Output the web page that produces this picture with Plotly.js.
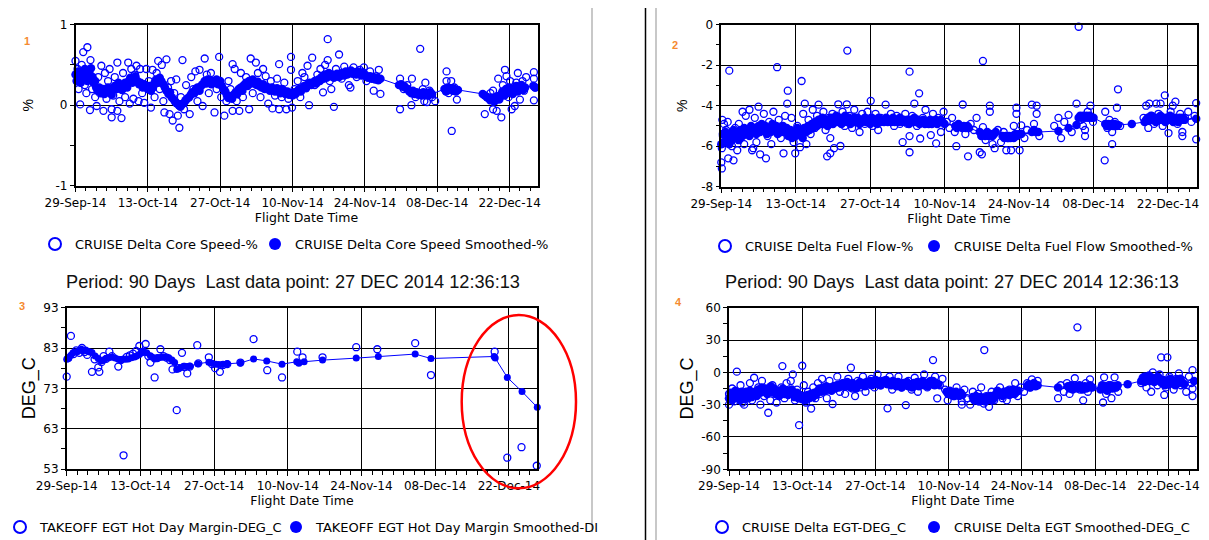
<!DOCTYPE html>
<html><head><meta charset="utf-8">
<script src="https://cdn.plot.ly/plotly-3.0.1.min.js"></script>
<style>html,body{margin:0;padding:0;background:#fff;}#chart{width:1209px;height:540px;}</style>
</head><body><div id="chart"></div>
<script>
// ---- tick labels (x = days since 29-Sep-14) ----
const tickDays = [0,14,28,42,56,70,84];
const tickLabels = ['29-Sep-14','13-Oct-14','27-Oct-14','10-Nov-14','24-Nov-14','08-Dec-14','22-Dec-14'];
const coreTicks = [-1,0,1];
const coreTickLabels = ['-1','0','1'];
const fuelTicks = [-8,-6,-4,-2,0];
const fuelTickLabels = ['-8','-6','-4','-2','0'];
const egtmTicks = [53,63,73,83,93];
const egtmTickLabels = ['53','63','73','83','93'];
const egtTicks = [-90,-60,-30,0,30,60];
const egtTickLabels = ['-90','-60','-30','0','30','60'];

// ---- panel 1: CRUISE Delta Core Speed (%) ----
const coreRawDays = [0.0,0.2,0.4,0.6,0.9,1.2,1.5,1.8,2.1,2.3,
 2.6,2.8,2.9,3.2,3.5,3.8,4.1,4.4,4.7,5.0,
 5.4,5.7,6.0,6.3,6.6,7.0,7.0,7.3,7.6,8.1,
 8.1,8.5,8.9,9.2,9.6,10.2,10.5,10.8,11.2,11.5,
 11.8,12.2,12.5,12.9,13.3,13.7,14.2,14.6,14.9,15.3,
 15.7,16.0,16.3,16.7,17.0,17.2,17.6,17.9,18.2,18.5,
 18.8,19.1,19.5,19.8,20.1,20.4,20.7,21.0,21.4,22.1,
 22.4,22.8,23.2,23.6,24.0,24.6,25.0,25.4,25.8,26.2,
 26.5,26.9,27.3,27.8,28.2,28.8,29.2,29.6,30.0,30.4,
 30.4,30.8,31.2,31.7,32.0,32.4,33.0,33.6,33.9,34.3,
 34.9,35.3,35.8,36.3,36.8,37.3,37.8,38.1,38.6,39.0,
 39.4,39.4,39.9,40.4,40.8,41.2,41.7,41.7,41.9,42.4,
 43.0,43.5,43.9,44.3,44.9,45.2,45.8,46.3,46.8,47.4,
 47.9,48.3,48.8,48.8,49.2,49.5,50.0,50.4,51.0,51.5,
 52.0,52.9,53.2,53.8,54.4,55.0,55.8,56.3,57.0,57.7,
 58.2,58.7,59.0,62.8,62.8,63.5,64.2,65.0,65.1,65.8,
 66.7,67.2,67.5,67.7,68.0,68.5,69.0,69.6,71.8,71.8,
 72.2,72.7,72.8,73.3,73.8,79.2,79.8,80.3,80.8,80.8,
 81.2,81.5,81.8,82.1,82.4,82.7,83.1,83.4,83.8,84.1,
 84.4,84.8,85.0,85.3,85.6,86.0,86.5,86.8,87.2,88.7,
 88.7,88.7,88.9];
const coreRawVals = [0.55,0.30,0.45,0.20,0.01,0.50,0.66,0.25,0.15,0.72,
 0.40,-0.06,0.56,0.20,0.30,0.10,-0.01,0.35,0.15,0.49,
 -0.07,0.40,0.08,0.30,0.45,-0.05,-0.15,0.12,0.35,-0.07,
 0.53,0.05,-0.16,0.40,0.10,0.53,0.02,0.45,0.08,0.38,
 0.49,0.05,0.45,0.15,0.03,0.45,0.30,-0.03,0.44,0.10,
 0.40,0.55,0.20,0.50,0.05,-0.09,0.57,0.22,-0.11,0.30,
 -0.19,0.15,0.32,-0.13,-0.28,0.10,0.56,-0.05,0.25,-0.11,
 0.35,0.20,0.42,0.05,0.44,-0.01,0.58,0.38,0.15,0.40,
 0.30,-0.09,0.20,0.60,0.10,-0.13,0.05,0.30,0.20,-0.07,
 0.51,0.45,0.05,-0.07,0.40,0.10,0.35,-0.05,0.58,0.15,
 0.53,0.40,0.10,0.45,0.36,0.02,0.30,-0.04,0.12,0.33,
 -0.05,0.51,0.10,0.28,-0.05,0.08,0.60,0.44,-0.03,0.20,
 0.30,0.10,0.40,0.35,0.49,0.00,0.59,0.25,0.38,0.45,
 0.16,0.50,0.82,0.56,0.30,0.20,-0.02,0.45,0.63,0.33,
 0.48,0.25,0.22,0.47,0.35,0.44,0.47,0.30,0.42,0.18,
 0.36,0.44,0.14,0.33,-0.05,0.20,0.25,0.00,0.33,0.10,
 0.70,0.20,0.05,0.28,0.04,0.18,0.10,0.05,0.42,0.30,
 0.15,0.30,-0.32,0.22,0.07,-0.11,0.10,0.15,0.18,-0.05,
 0.05,-0.07,0.33,0.10,-0.15,0.25,0.44,0.36,0.10,0.30,
 -0.05,0.20,-0.01,0.28,0.40,0.07,0.30,0.18,0.35,0.41,
 0.33,0.06,0.22];
const coreSmDays = [0.0,0.3,0.5,0.8,1.0,1.3,1.5,1.8,2.0,2.3,
 2.5,2.8,3.0,3.3,3.5,3.8,4.0,4.3,4.6,5.0,
 5.3,5.6,6.0,6.3,6.6,7.0,7.3,7.6,8.0,8.3,
 8.6,9.0,9.3,9.6,10.0,10.3,10.6,11.0,11.3,11.6,
 12.0,12.3,12.6,13.0,13.3,13.6,14.0,14.3,14.6,15.0,
 15.3,15.6,16.0,16.3,16.6,17.0,17.3,17.6,18.0,18.3,
 18.6,19.0,19.3,19.6,20.0,20.3,20.6,21.0,21.3,21.6,
 22.0,22.3,22.6,23.0,23.3,23.6,24.0,24.3,24.6,25.0,
 25.3,25.6,26.0,26.3,26.6,27.0,27.3,27.6,28.0,28.3,
 28.6,29.0,29.3,29.6,30.0,30.3,30.6,31.0,31.3,31.6,
 32.0,32.3,32.6,33.0,33.3,33.6,34.0,34.3,34.6,35.0,
 35.3,35.6,36.0,36.3,36.6,37.0,37.3,37.6,38.0,38.3,
 38.6,39.0,39.3,39.6,40.0,40.3,40.6,41.0,41.3,41.6,
 42.0,42.3,42.6,43.0,43.3,43.6,44.0,44.3,44.6,45.0,
 45.3,45.6,46.0,46.3,46.6,47.0,47.3,47.6,48.0,48.3,
 48.6,49.0,49.3,49.6,50.0,50.3,50.6,51.0,51.3,51.6,
 52.0,52.3,52.6,53.0,53.3,53.6,54.0,54.3,54.6,55.0,
 55.3,55.6,56.0,56.3,56.6,57.0,57.3,57.6,58.0,58.3,
 58.6,59.0,62.6,63.0,63.3,63.6,64.0,64.3,64.6,65.0,
 65.3,65.6,66.0,66.3,66.6,67.0,67.3,67.6,68.0,68.3,
 68.6,69.0,71.4,71.7,72.0,72.3,72.6,73.0,73.3,73.6,
 74.0,78.8,79.2,79.6,80.0,80.3,80.6,81.0,81.3,81.6,
 82.0,82.3,82.6,83.0,83.3,83.6,84.0,84.3,84.6,85.0,
 85.3,85.6,86.0,86.3,86.6,87.0,88.6,89.0];
const coreSmVals = [0.38,0.30,0.42,0.35,0.28,0.40,0.33,0.45,0.36,0.30,
 0.42,0.38,0.46,0.35,0.28,0.30,0.22,0.18,0.22,0.15,
 0.20,0.14,0.18,0.22,0.16,0.13,0.20,0.24,0.20,0.28,
 0.24,0.19,0.23,0.28,0.22,0.30,0.34,0.28,0.32,0.36,
 0.30,0.26,0.28,0.22,0.26,0.24,0.20,0.24,0.18,0.22,
 0.28,0.32,0.28,0.34,0.30,0.26,0.22,0.18,0.14,0.16,
 0.10,0.07,0.04,0.02,0.00,-0.02,0.01,0.03,0.06,0.08,
 0.10,0.13,0.16,0.15,0.20,0.22,0.18,0.24,0.26,0.30,
 0.27,0.32,0.29,0.26,0.30,0.28,0.32,0.26,0.30,0.24,
 0.20,0.17,0.12,0.09,0.11,0.08,0.13,0.16,0.14,0.20,
 0.22,0.18,0.25,0.28,0.24,0.30,0.27,0.32,0.28,0.25,
 0.29,0.24,0.22,0.26,0.20,0.23,0.21,0.18,0.22,0.20,
 0.17,0.21,0.19,0.15,0.20,0.18,0.14,0.17,0.13,0.15,
 0.12,0.16,0.14,0.18,0.20,0.17,0.22,0.24,0.21,0.26,
 0.28,0.25,0.28,0.30,0.27,0.32,0.30,0.35,0.33,0.38,
 0.34,0.40,0.36,0.38,0.34,0.36,0.39,0.35,0.37,0.40,
 0.37,0.42,0.38,0.40,0.43,0.39,0.41,0.38,0.42,0.40,
 0.37,0.41,0.38,0.36,0.34,0.36,0.33,0.35,0.32,0.34,
 0.31,0.33,0.25,0.26,0.23,0.24,0.21,0.20,0.17,0.15,
 0.18,0.14,0.16,0.13,0.15,0.12,0.16,0.13,0.15,0.12,
 0.16,0.14,0.20,0.17,0.22,0.19,0.21,0.18,0.20,0.17,
 0.19,0.14,0.12,0.10,0.08,0.06,0.09,0.05,0.08,0.11,
 0.07,0.13,0.17,0.12,0.20,0.15,0.22,0.18,0.14,0.20,
 0.24,0.17,0.21,0.25,0.19,0.22,0.24,0.22];

// ---- panel 2: CRUISE Delta Fuel Flow (%) ----
const fuelRawDays = [0.0,0.1,0.1,0.2,0.3,0.5,0.7,0.9,1.2,1.3,
 1.5,1.7,2.0,2.3,2.6,3.0,3.3,3.6,4.0,4.3,
 4.6,5.0,5.3,5.8,6.0,6.3,6.6,7.0,7.3,7.6,
 8.0,8.4,8.7,9.0,9.4,9.8,10.2,10.5,10.8,11.2,
 11.7,12.0,12.4,12.5,12.8,13.2,13.6,13.9,14.3,14.8,
 15.1,15.4,15.7,16.0,16.4,16.8,17.2,17.6,18.0,18.3,
 18.7,19.2,19.6,19.9,20.2,20.5,20.5,20.9,21.2,21.6,
 22.0,22.4,22.8,23.2,23.6,23.7,24.1,24.6,25.0,25.5,
 26.0,26.5,27.0,27.5,28.1,28.5,29.0,29.5,30.0,30.9,
 31.4,31.9,32.5,33.0,33.6,34.1,34.6,35.0,35.4,35.4,
 35.4,35.9,36.3,36.8,37.2,37.4,37.9,38.4,39.0,39.4,
 39.8,40.4,40.8,41.3,41.8,42.4,42.9,43.4,43.9,44.2,
 44.8,45.4,45.9,46.4,46.9,47.5,48.0,48.6,49.0,49.2,
 49.2,49.7,50.5,50.5,51.0,51.4,52.0,52.6,53.1,53.6,
 54.0,54.5,55.0,55.5,55.5,56.1,56.4,57.0,57.5,58.4,
 58.8,59.3,59.3,59.8,62.6,63.4,63.9,64.5,65.3,65.9,
 66.8,67.2,67.6,68.0,68.4,68.4,68.9,69.4,69.9,72.1,
 72.2,72.6,73.0,73.5,73.5,74.0,74.4,74.6,75.0,79.4,
 79.9,80.3,80.5,81.0,81.4,81.8,82.2,82.6,83.0,83.4,
 83.8,84.1,84.5,84.9,85.4,85.8,86.3,86.7,86.7,87.2,
 87.8,88.4,89.0,89.3,89.3];
const fuelRawVals = [-6.8,-7.1,-6.1,-4.7,-5.5,-4.9,-5.8,-5.2,-4.8,-6.6,
 -2.27,-5.4,-6.0,-6.7,-5.1,-6.2,-4.9,-5.6,-4.3,-5.9,
 -4.5,-5.3,-4.2,-6.2,-6.1,-4.6,-5.8,-4.05,-6.4,-5.0,
 -4.4,-6.6,-5.5,-4.8,-5.9,-4.3,-5.1,-2.1,-4.7,-5.6,
 -6.35,-4.5,-3.9,-3.26,-5.3,-4.6,-5.8,-6.35,-5.0,-6.05,
 -2.78,-4.4,-3.9,-5.9,-4.7,-5.4,-4.2,-5.1,-4.5,-3.95,
 -4.9,-4.3,-5.2,-6.5,-4.6,-6.35,-5.6,-4.4,-6.1,-4.8,
 -3.93,-5.99,-4.3,-5.0,-3.93,-1.28,-4.5,-5.1,-4.2,-4.7,
 -5.3,-4.4,-4.9,-4.3,-3.76,-5.0,-4.4,-5.2,-4.6,-3.95,
 -4.8,-4.4,-5.0,-4.5,-4.9,-5.8,-4.4,-4.9,-2.32,-5.5,
 -6.3,-4.5,-3.9,-5.0,-3.39,-5.62,-4.6,-4.2,-4.9,-5.45,
 -4.4,-5.86,-4.6,-5.3,-4.3,-4.8,-5.1,-4.6,-5.3,-6.0,
 -5.0,-3.94,-5.4,-6.5,-4.9,-5.2,-4.6,-6.3,-6.4,-1.79,
 -5.06,-5.7,-4.0,-4.3,-5.9,-6.1,-5.2,-5.8,-5.3,-6.2,
 -5.6,-6.2,-5.0,-4.1,-4.4,-6.2,-4.97,-5.6,-5.2,-3.95,
 -4.9,-4.0,-4.4,-5.5,-5.0,-4.6,-5.6,-4.8,-4.45,-5.3,
 -3.9,-0.1,-4.7,-5.0,-5.2,-5.5,-4.3,-4.0,-4.8,-6.7,
 -4.3,-5.1,-4.7,-5.9,-5.3,-4.8,-4.1,-3.19,-5.0,-4.6,
 -4.0,-5.1,-3.9,-4.5,-4.9,-3.9,-4.4,-3.9,-5.0,-3.49,
 -4.6,-5.35,-4.3,-4.0,-3.8,-4.9,-4.4,-5.3,-5.5,-4.6,
 -4.3,-4.8,-4.5,-3.87,-5.66];
const fuelSmDays = [0.0,0.3,0.5,0.8,1.0,1.3,1.5,1.8,2.0,2.3,
 2.6,3.0,3.3,3.6,4.0,4.3,4.6,5.0,5.3,5.6,
 6.0,6.3,6.6,7.0,7.3,7.6,8.0,8.3,8.6,9.0,
 9.3,9.6,10.0,10.3,10.6,11.0,11.3,11.6,12.0,12.3,
 12.6,13.0,13.3,13.6,14.0,14.3,14.6,15.0,15.3,15.6,
 16.0,16.3,16.6,17.0,17.3,17.6,18.0,18.3,18.6,19.0,
 19.3,19.6,20.0,20.3,20.6,21.0,21.3,21.6,22.0,22.3,
 22.6,23.0,23.3,23.6,24.0,24.3,24.6,25.0,25.3,25.6,
 26.0,26.3,26.6,27.0,27.3,27.6,28.0,28.3,28.6,29.0,
 29.3,29.6,30.0,30.3,30.6,31.0,31.3,31.6,32.0,32.3,
 32.6,33.0,33.3,33.6,34.0,34.3,34.6,35.0,35.3,35.6,
 36.0,36.3,36.6,37.0,37.3,37.6,38.0,38.3,38.6,39.0,
 39.3,39.6,40.0,40.3,40.6,41.0,41.3,41.6,42.0,44.0,
 44.3,44.6,45.0,45.3,45.6,46.0,46.3,46.6,48.6,48.9,
 49.2,49.6,50.0,50.3,50.6,51.0,51.3,51.6,52.9,53.2,
 53.5,53.8,54.1,54.4,54.7,55.0,55.3,55.6,56.0,56.4,
 58.4,58.8,59.2,59.6,63.4,65.3,66.8,67.2,67.5,67.8,
 68.1,68.4,68.7,69.0,69.3,69.6,70.0,72.2,72.5,72.8,
 73.1,73.4,73.7,74.0,74.3,74.6,77.2,79.6,79.9,80.2,
 80.5,80.8,81.1,81.4,81.7,82.0,82.3,82.6,82.9,83.2,
 83.5,83.8,84.1,84.4,84.7,85.0,85.3,85.6,85.9,86.2,
 86.5,86.8,87.1,89.3];
const fuelSmVals = [-5.9,-5.4,-5.8,-5.3,-5.7,-5.5,-5.9,-5.4,-5.7,-5.2,
 -5.6,-5.4,-5.7,-5.2,-5.5,-5.1,-5.4,-5.2,-5.5,-5.0,
 -5.3,-5.1,-5.4,-5.0,-5.3,-4.9,-5.2,-5.0,-5.4,-5.1,
 -5.3,-4.9,-5.2,-5.0,-5.4,-5.1,-5.3,-5.0,-5.3,-5.1,
 -5.5,-5.2,-5.6,-5.3,-5.5,-5.1,-5.4,-5.2,-5.6,-5.1,
 -5.3,-5.0,-5.2,-4.9,-5.1,-4.8,-5.0,-4.7,-4.9,-4.6,
 -4.9,-4.7,-5.0,-4.8,-4.6,-4.9,-4.7,-4.5,-4.8,-4.6,
 -4.9,-4.7,-4.5,-4.8,-4.6,-4.9,-4.7,-4.6,-4.8,-4.6,
 -4.9,-4.7,-4.8,-4.6,-4.8,-4.7,-4.9,-4.6,-4.8,-4.7,
 -4.9,-4.6,-4.8,-4.7,-4.8,-4.6,-4.8,-4.7,-4.8,-4.6,
 -4.8,-4.7,-4.8,-4.6,-4.8,-4.7,-4.8,-4.7,-4.9,-4.7,
 -4.8,-4.6,-4.8,-4.7,-4.9,-4.8,-4.7,-4.9,-4.8,-4.9,
 -4.7,-4.9,-4.8,-4.7,-4.9,-4.8,-4.7,-4.8,-4.9,-5.0,
 -5.1,-4.9,-5.0,-5.1,-5.0,-5.1,-5.0,-5.1,-5.3,-5.5,
 -5.4,-5.5,-5.3,-5.5,-5.4,-5.5,-5.4,-5.3,-5.5,-5.6,
 -5.5,-5.6,-5.5,-5.6,-5.5,-5.6,-5.4,-5.5,-5.4,-5.4,
 -5.3,-5.2,-5.3,-5.3,-5.25,-5.1,-4.95,-4.6,-4.5,-4.6,
 -4.5,-4.6,-4.5,-4.6,-4.5,-4.6,-4.6,-4.9,-5.0,-4.9,
 -5.0,-4.9,-5.0,-4.9,-5.0,-4.95,-4.9,-4.8,-4.7,-4.6,
 -4.7,-4.5,-4.7,-4.6,-4.8,-4.6,-4.7,-4.5,-4.7,-4.6,
 -4.8,-4.6,-4.7,-4.5,-4.7,-4.8,-4.6,-4.7,-4.8,-4.6,
 -4.7,-4.6,-4.7,-4.64];

// ---- panel 3: TAKEOFF EGT Hot Day Margin (DEG_C) ----
const egtmRawDays = [0.0,0.3,0.8,1.3,1.8,2.4,2.9,3.4,3.9,4.8,
 5.3,6.0,6.2,6.6,7.0,7.5,8.1,8.6,9.8,10.3,
 10.8,11.4,12.0,12.6,13.2,13.8,14.3,15.0,15.5,15.9,
 16.7,17.2,17.8,18.4,19.0,19.6,20.1,20.9,21.3,21.9,
 22.4,22.9,23.4,24.8,25.0,27.0,27.6,28.2,29.1,29.7,
 30.5,33.0,35.5,38.1,40.9,43.8,44.8,48.6,55.0,59.0,
 66.2,69.2,81.3,83.7,86.4,89.3];
const egtmRawVals = [75.9,80.5,86.0,81.5,82.4,81.8,83.0,82.0,81.3,77.1,
 80.2,78.2,77.1,79.5,81.0,80.3,82.1,81.0,78.4,80.0,
 56.4,80.8,81.2,81.6,82.3,83.5,82.0,84.0,81.0,79.4,
 75.7,80.5,82.7,81.0,80.6,80.0,77.7,67.6,78.0,81.8,
 78.3,76.7,78.4,83.7,79.2,80.7,79.0,78.0,77.1,78.8,
 79.0,79.4,85.2,77.5,75.7,82.1,80.7,80.7,83.2,82.7,
 84.2,76.3,82.1,55.8,58.4,53.8];
const egtmSmDays = [0.0,0.4,0.8,1.2,1.6,2.0,2.4,2.8,3.2,3.6,
 4.0,4.4,4.8,5.4,6.0,6.6,7.0,7.5,8.0,8.6,
 9.2,9.8,10.3,10.8,11.2,11.7,12.3,12.9,13.3,13.8,
 14.2,14.6,15.2,15.9,16.3,16.7,17.1,17.5,18.0,18.4,
 18.9,19.4,20.0,20.5,20.9,21.6,22.2,22.9,23.4,24.9,
 27.0,27.6,28.3,28.9,29.6,30.5,33.0,35.5,38.0,40.9,
 43.7,44.1,45.1,48.6,55.0,59.2,66.2,69.2,81.2,81.4,
 83.7,86.5,89.4];
const egtmSmVals = [80.2,80.5,81.2,81.8,82.0,82.1,82.4,82.7,82.4,82.5,
 82.2,82.0,81.9,81.0,80.4,79.8,80.0,80.4,80.6,80.8,
 80.5,80.2,80.1,80.3,80.2,80.3,80.6,80.8,81.0,81.4,
 81.9,82.2,81.8,81.1,80.7,80.3,80.4,80.6,80.7,80.8,
 80.7,80.6,80.0,79.4,77.7,78.1,78.5,78.4,78.5,79.1,
 79.5,79.2,79.0,78.9,78.9,79.1,79.3,80.3,79.8,79.0,
 79.6,79.2,79.6,80.0,80.5,80.9,81.5,80.4,80.9,80.5,
 75.7,72.2,68.3];

// ---- panel 4: CRUISE Delta EGT (DEG_C) ----
const egtRawDays = [0.0,0.0,0.3,0.6,1.0,1.5,1.8,2.2,2.6,2.9,
 3.3,3.7,4.0,4.4,4.8,5.2,5.6,6.0,6.3,6.7,
 7.1,7.5,7.9,8.3,8.7,9.1,9.5,10.0,10.2,10.6,
 11.0,11.4,11.8,12.2,12.6,13.0,13.4,13.8,14.0,14.3,
 14.7,15.1,15.7,16.1,16.5,17.0,17.4,17.8,18.2,18.7,
 19.2,19.8,20.2,20.7,21.2,21.7,22.2,22.8,23.3,23.6,
 24.1,24.6,25.1,25.6,26.1,26.6,27.2,27.8,28.4,29.0,
 29.6,30.3,30.7,31.2,31.8,32.4,33.0,33.8,34.3,34.9,
 35.5,36.1,36.7,37.3,37.9,38.5,39.0,39.4,39.8,40.3,
 40.8,41.3,41.8,42.3,42.9,43.5,44.0,44.5,44.5,45.0,
 45.5,46.1,46.6,47.1,47.6,48.2,48.7,48.8,49.2,49.7,
 50.2,50.7,51.3,51.8,52.3,53.1,53.6,54.2,54.7,55.2,
 55.8,56.4,57.0,57.5,57.9,58.4,59.0,62.9,63.4,64.0,
 64.6,65.1,65.7,66.1,66.6,67.1,67.7,68.2,68.6,69.0,
 69.5,71.5,71.7,72.1,72.6,73.1,73.7,74.0,74.4,78.8,
 79.4,79.8,80.3,80.7,81.0,81.4,81.9,82.3,82.6,82.9,
 83.2,83.5,83.8,84.2,84.6,85.0,85.5,86.0,86.4,86.9,
 87.4,87.9,88.4,88.6,88.6,88.6];
const egtRawVals = [-20,-30,-25,-15,-27,0.6,-22,-12,-28,-30,
 -18,-24,-10,-26,-5,-20,-14,-30,-8,-22,
 -16,-37.5,-26,-12,-20,-28,-18,-14,5.8,-24,
 -10,-20,-8,-1.9,-26,-16,-49,-22,6.1,-12,
 -28,-18,-33.6,-14,-24,-10,-20,-6,-16,-24,
 -8,-29.4,-14,-4,-18,-10,-20,-6,4.3,-15,
 -22,-8,-14,-4,-18,-10,-6,-14,-2,-12,
 -8,-33.4,-4,-16,-10,-4,-14,-30.4,-8,-16,
 -5,-18,-10,-2,-14,-8,11.4,-4,-24.1,-12,
 -6,-16,-26,-18,-22,-14,-20,-27,-30,-16,
 -24,-30,-18,-26,-20,-14,-29,20.7,-22,-32,
 -18,-26,-20,-14,-24,-26,-16,-20,-10,-22,
 -14,-18,-10,-14,-6.5,-12,-8,-24,-12,-18,
 -10,-20,-14,-5.5,41.8,-16,-26,-10,-18,-6.5,
 -14,-28,-4.6,-20,-12,-24,-4.6,-14,-18,-10,
 -4,-14,-8,-18,0,-6,-12,-2,13.9,-8,
 -21,-14,13.9,-4,-10,-16,-6,-1,-12,-8,
 -18,-4,-10,2,-15,-22];
const egtSmDays = [0.0,0.3,0.6,0.9,1.2,1.5,1.8,2.1,2.4,2.7,
 3.0,3.3,3.6,4.0,4.3,4.6,5.0,5.3,5.6,6.0,
 6.3,6.6,7.0,7.3,7.6,8.0,8.3,8.6,9.0,9.3,
 9.6,10.0,10.3,10.6,11.0,11.3,11.6,12.0,12.3,12.6,
 13.0,13.3,13.6,14.0,14.3,14.6,15.0,15.3,15.6,16.0,
 16.3,16.6,17.0,17.3,17.6,18.0,18.3,18.6,19.0,19.3,
 19.6,20.0,20.3,20.6,21.0,21.3,21.6,22.0,22.3,22.6,
 23.0,23.3,23.6,24.0,24.3,24.6,25.0,25.3,25.6,26.0,
 26.3,26.6,27.0,27.3,27.6,28.0,28.3,28.6,29.0,29.3,
 29.6,30.0,30.3,30.6,31.0,31.3,31.6,32.0,32.3,32.6,
 33.0,33.3,33.6,34.0,34.3,34.6,35.0,35.3,35.6,36.0,
 36.3,36.6,37.0,37.3,37.6,38.0,38.3,38.6,39.0,39.3,
 39.6,40.0,41.6,41.9,42.2,42.5,42.8,43.1,43.4,43.7,
 44.0,44.3,44.6,46.6,46.9,47.2,47.5,47.8,48.1,48.4,
 48.7,49.0,49.3,49.6,50.0,50.3,50.6,51.0,51.3,51.6,
 52.0,52.3,52.6,53.0,53.3,53.6,54.0,54.3,54.6,55.0,
 55.3,57.0,57.3,57.6,58.0,58.3,58.6,59.0,62.9,64.8,
 65.1,65.4,65.7,66.0,66.3,66.6,67.0,67.3,67.6,68.0,
 68.3,68.6,69.0,69.3,71.0,71.3,71.6,72.0,72.3,72.6,
 73.0,73.3,73.6,74.0,74.3,76.2,78.8,79.1,79.4,79.7,
 80.0,80.3,80.6,81.0,81.3,81.6,82.0,82.3,82.7,83.0,
 83.3,83.6,84.0,84.3,84.6,85.0,85.3,85.6,86.0,86.3,
 86.6,87.0,88.9];
const egtSmVals = [-24,-19,-26,-21,-17,-23,-20,-26,-18,-22,
 -25,-19,-21,-17,-23,-20,-18,-22,-16,-19,
 -14,-18,-15,-20,-16,-13,-18,-15,-20,-17,
 -22,-18,-15,-20,-17,-21,-18,-16,-20,-23,
 -19,-24,-21,-25,-22,-26,-21,-24,-20,-23,
 -19,-21,-17,-15,-18,-14,-17,-13,-16,-14,
 -17,-13,-15,-12,-14,-11,-13,-10,-13,-9,
 -12,-14,-10,-12,-15,-11,-9,-12,-10,-13,
 -9,-11,-8,-12,-10,-7,-11,-9,-12,-8,
 -10,-7,-11,-9,-12,-8,-10,-13,-9,-11,
 -14,-10,-12,-9,-13,-11,-14,-10,-12,-9,
 -13,-11,-8,-12,-10,-13,-9,-11,-8,-12,
 -10,-11,-18,-20,-17,-21,-19,-22,-18,-20,
 -22,-19,-21,-23,-26,-22,-25,-27,-23,-26,
 -24,-27,-23,-25,-22,-26,-24,-20,-17,-21,
 -19,-22,-18,-20,-17,-21,-19,-16,-20,-18,
 -17,-13,-11,-14,-12,-10,-13,-12,-14,-13,
 -15,-12,-16,-14,-13,-15,-12,-14,-16,-13,
 -15,-14,-12,-14,-16,-12,-15,-13,-17,-14,
 -12,-15,-13,-14,-12,-11,-8,-5,-9,-4,
 -7,-3,-8,-5,-9,-6,-4,-8,-10,-7,
 -12,-9,-11,-6,-10,-8,-12,-7,-10,-6,
 -9,-11,-8];

// ---- geometry / style ----
const W = 1209, H = 540;
const F = 'DejaVu Sans, Verdana, sans-serif';
const FT = 'Liberation Sans, Arial, sans-serif';
const BLUE = '#0000ff';
const xd = (a, b) => [a / W, b / W];
const yd = (top, bot) => [1 - bot / H, 1 - top / H];

function xAxis(dom, anchor) {
  return {
    domain: dom, anchor: anchor, range: [0, 89.4],
    tickmode: 'array', tickvals: tickDays, ticktext: tickLabels,
    showgrid: true, gridcolor: '#000', gridwidth: 1.3,
    showline: true, linecolor: '#000', linewidth: 1.5, mirror: true,
    ticks: 'outside', ticklen: 5, tickcolor: '#000', tickwidth: 1.3,
    tickfont: {family: F, size: 12, color: '#000'},
    zeroline: false, fixedrange: true, automargin: false,
    minor: {tickmode: 'linear', tick0: 0, dtick: 2, ticks: 'outside', ticklen: 4, tickcolor: '#000', tickwidth: 1, showgrid: false},
    title: {text: 'Flight Date Time', font: {family: F, size: 12.5, color: '#000'}, standoff: 4}
  };
}
function yAxis(dom, anchor, range, vals, labels, minor, title, tsize, standoff) {
  return {
    domain: dom, anchor: anchor, range: range,
    tickmode: 'array', tickvals: vals, ticktext: labels,
    showgrid: true, gridcolor: '#000', gridwidth: 1.3,
    showline: true, linecolor: '#000', linewidth: 1.5, mirror: true,
    ticks: 'outside', ticklen: 4, tickcolor: '#000', tickwidth: 1.3,
    tickfont: {family: F, size: 12, color: '#000'},
    zeroline: false, fixedrange: true, automargin: false,
    minor: {tickmode: 'linear', tick0: range[0], dtick: minor, ticks: 'outside', ticklen: 4, tickcolor: '#000', tickwidth: 1, showgrid: false},
    title: {text: title, font: {family: FT, size: tsize, color: '#000'}, standoff: standoff}
  };
}

function rawTrace(x, y, xa, ya, name, leg) {
  return {type: 'scatter', mode: 'markers', x: x, y: y, xaxis: xa, yaxis: ya, name: name, legend: leg,
    marker: {symbol: 'circle-open', size: 7, color: BLUE, line: {width: 1.3, color: BLUE}},
    cliponaxis: false, hoverinfo: 'x+y'};
}
function smLine(x, y, xa, ya) {
  return {type: 'scatter', mode: 'lines', x: x, y: y, xaxis: xa, yaxis: ya, showlegend: false,
    line: {color: BLUE, width: 1}, cliponaxis: false, hoverinfo: 'skip'};
}
function smTrace(x, y, xa, ya, name, leg, size) {
  return {type: 'scatter', mode: 'markers', x: x, y: y, xaxis: xa, yaxis: ya, name: name, legend: leg,
    marker: {symbol: 'circle', size: size, color: BLUE}, cliponaxis: false, hoverinfo: 'x+y'};
}

const data = [
  rawTrace(coreRawDays, coreRawVals, 'x', 'y', 'CRUISE Delta Core Speed-%', 'legend'),
  smLine(coreSmDays, coreSmVals, 'x', 'y'),
  smTrace(coreSmDays, coreSmVals, 'x', 'y', 'CRUISE Delta Core Speed Smoothed-%', 'legend2', 8.5),
  rawTrace(fuelRawDays, fuelRawVals, 'x2', 'y2', 'CRUISE Delta Fuel Flow-%', 'legend3'),
  smLine(fuelSmDays, fuelSmVals, 'x2', 'y2'),
  smTrace(fuelSmDays, fuelSmVals, 'x2', 'y2', 'CRUISE Delta Fuel Flow Smoothed-%', 'legend4', 8.5),
  rawTrace(egtmRawDays, egtmRawVals, 'x3', 'y3', 'TAKEOFF EGT Hot Day Margin-DEG_C', 'legend5'),
  smLine(egtmSmDays, egtmSmVals, 'x3', 'y3'),
  smTrace(egtmSmDays, egtmSmVals, 'x3', 'y3', 'TAKEOFF EGT Hot Day Margin Smoothed-DI', 'legend6', 7),
  rawTrace(egtRawDays, egtRawVals, 'x4', 'y4', 'CRUISE Delta EGT-DEG_C', 'legend7'),
  smLine(egtSmDays, egtSmVals, 'x4', 'y4'),
  smTrace(egtSmDays, egtSmVals, 'x4', 'y4', 'CRUISE Delta EGT Smoothed-DEG_C', 'legend8', 8.5)
];

// cx = target centre of the legend symbol; kept inside the paper so no margin is pushed
function leg(cx, cy) {
  return {x: Math.max(0, cx - 27) / W, y: 1 - cy / H, xanchor: 'left', yanchor: 'middle', orientation: 'h',
    bgcolor: 'rgba(0,0,0,0)', borderwidth: 0, itemsizing: 'constant',
    font: {family: F, size: 13, color: '#000'}};
}

const periodText = 'Period: 90 Days\u00a0 Last data point: 27 DEC 2014 12:36:13';
const orange = '#f58a30';
const layout = {
  width: W, height: H, margin: {l: 0, r: 0, t: 0, b: 0, autoexpand: false},
  paper_bgcolor: '#fff', plot_bgcolor: '#fff',
  font: {family: F, color: '#000'},
  xaxis: xAxis(xd(75.5, 537.5), 'y'),
  yaxis: yAxis(yd(24.7, 185.7), 'x', [-1, 1], coreTicks, coreTickLabels, 0.5, '%', 14, 18),
  xaxis2: xAxis(xd(721.3, 1196.7), 'y2'),
  yaxis2: yAxis(yd(24.7, 186.7), 'x2', [-8, 0], fuelTicks, fuelTickLabels, 1, '%', 14, 10),
  xaxis3: xAxis(xd(66.7, 537.3), 'y3'),
  yaxis3: yAxis(yd(307.7, 469), 'x3', [53, 93], egtmTicks, egtmTickLabels, 5, 'DEG_C', 18, 3),
  xaxis4: xAxis(xd(729, 1196.7), 'y4'),
  yaxis4: yAxis(yd(307.7, 469.3), 'x4', [-90, 60], egtTicks, egtTickLabels, 15, 'DEG_C', 18, 3),
  legend: leg(62, 244), legend2: leg(282, 244),
  legend3: leg(732, 246), legend4: leg(941, 246),
  legend5: leg(17, 527), legend6: leg(303, 527),
  legend7: leg(729, 527), legend8: leg(941, 527),
  annotations: [
    {text: '<b>1</b>', x: 27 / W, y: 1 - 33 / H, xref: 'paper', yref: 'paper', xanchor: 'center', showarrow: false, font: {family: FT, size: 11, color: orange}},
    {text: '<b>2</b>', x: 675 / W, y: 1 - 37 / H, xref: 'paper', yref: 'paper', xanchor: 'center', showarrow: false, font: {family: FT, size: 11, color: orange}},
    {text: '<b>3</b>', x: 22 / W, y: 1 - 306 / H, xref: 'paper', yref: 'paper', xanchor: 'center', showarrow: false, font: {family: FT, size: 11, color: orange}},
    {text: '<b>4</b>', x: 678 / W, y: 1 - 302 / H, xref: 'paper', yref: 'paper', xanchor: 'center', showarrow: false, font: {family: FT, size: 11, color: orange}},
    {text: periodText, x: 293 / W, y: 1 - 282 / H, xref: 'paper', yref: 'paper', xanchor: 'center', yanchor: 'middle', showarrow: false, font: {family: FT, size: 18.2, color: '#111'}},
    {text: periodText, x: 952 / W, y: 1 - 282 / H, xref: 'paper', yref: 'paper', xanchor: 'center', yanchor: 'middle', showarrow: false, font: {family: FT, size: 18.2, color: '#111'}}
  ],
  shapes: [
    {type: 'line', xref: 'paper', yref: 'paper', x0: 592 / W, x1: 592 / W, y0: 1 - 532 / H, y1: 1 - 8 / H, line: {color: '#c8c8c8', width: 2}},
    {type: 'line', xref: 'paper', yref: 'paper', x0: 645.5 / W, x1: 645.5 / W, y0: 0, y1: 1 - 8 / H, line: {color: '#000', width: 1.5}},
    {type: 'line', xref: 'paper', yref: 'paper', x0: 656 / W, x1: 656 / W, y0: 0, y1: 1 - 8 / H, line: {color: '#c8c8c8', width: 2}},
    {type: 'circle', xref: 'paper', yref: 'paper', layer: 'above', x0: 461.7 / W, x1: 576 / W, y0: 1 - 488.3 / H, y1: 1 - 315 / H, line: {color: '#ff0000', width: 2.5}}
  ],
  showlegend: true
};

Plotly.newPlot('chart', data, layout, {displayModeBar: false, responsive: false});
</script>
</body></html>
